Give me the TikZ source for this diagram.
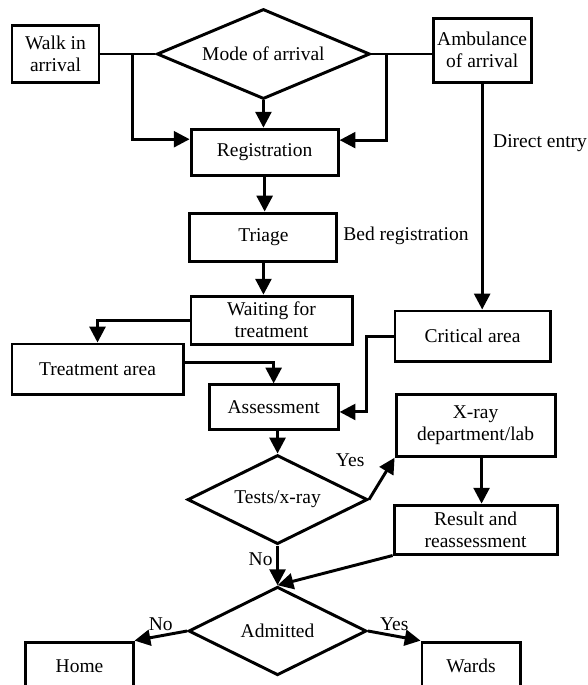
\documentclass[tikz,border=0pt]{standalone}
\usepackage{fontspec}
\setmainfont{Liberation Serif}
\usetikzlibrary{shapes.geometric,arrows.meta}
\tikzset{
  box/.style={draw, line width=2.8pt, align=center, inner sep=0pt},
  decision/.style={draw, diamond, aspect=2, line width=2.8pt, align=center, inner sep=0pt},
  line/.style={line width=2.8pt},
  arr/.style={line width=2.8pt, -{Triangle[length=15pt,width=15pt]}},
}
\begin{document}
\begin{tikzpicture}[font=\fontsize{18.5}{21}\selectfont]
  \useasboundingbox (0,0) rectangle (19.57,-22.83);
  % arrival
  \node[box, minimum width=2.9cm, minimum height=1.87cm] (walk) at (1.85,-1.8) {Walk in\\arrival};
  \node[decision, minimum width=7.1cm, minimum height=3cm] (mode) at (8.78,-1.8) {Mode of arrival};
  \node[box, minimum width=3.27cm, minimum height=2.13cm] (amb) at (16.07,-1.67) {Ambulance\\of arrival};
  \node[box, minimum width=4.9cm, minimum height=1.53cm] (reg) at (8.82,-5.07) {Registration};
  \node[box, minimum width=4.9cm, minimum height=1.6cm] (triage) at (8.78,-7.9) {Triage};
  \node[box, minimum width=5.37cm, minimum height=1.6cm] (wait) at (9.05,-10.67) {Waiting for\\treatment};
  \node[box, minimum width=5.7cm, minimum height=1.67cm] (treat) at (3.25,-12.3) {Treatment area};
  \node[box, minimum width=5.17cm, minimum height=1.67cm] (crit) at (15.75,-11.2) {Critical area};
  \node[box, minimum width=4.3cm, minimum height=1.5cm] (assess) at (9.12,-13.58) {Assessment};
  % tests and results
  \node[decision, minimum width=6cm, minimum height=2.97cm] (tests) at (9.25,-16.65) {Tests/x-ray};
  \node[box, minimum width=5.3cm, minimum height=2.07cm] (xray) at (15.85,-14.17) {X-ray\\department/lab};
  \node[box, minimum width=5.43cm, minimum height=1.63cm] (result) at (15.85,-17.65) {Result and\\reassessment};
  \node[decision, minimum width=5.93cm, minimum height=2.95cm] (admit) at (9.25,-21.03) {Admitted};
  \node[box, minimum width=3.57cm, minimum height=1.6cm] (home) at (2.65,-22.2) {Home};
  \node[box, minimum width=3.27cm, minimum height=1.6cm] (wards) at (15.7,-22.2) {Wards};
  \node (direct) at (18.0,-4.77) {Direct entry};
  \node (bed) at (13.53,-7.87) {Bed registration};
  % connectors
  \coordinate (wj) at (4.43,-1.8);
  \coordinate (aj) at (12.87,-1.8);
  \coordinate (cj) at (12.23,-13.73);
  \draw[line] (walk) -- (mode);
  \draw[arr] (wj) |- ([yshift=0.43cm]reg.west);
  \draw[arr] (mode.south) -- (mode.south |- reg.north);
  \draw[line] (mode.east) -- (mode.east -| amb.west);
  \draw[arr] (aj) |- ([yshift=0.4cm]reg.east);
  \draw[arr] (amb.south) -- (amb.south |- crit.north);
  \draw[arr] (reg.south) -- (reg.south |- triage.north);
  \draw[arr] (triage.south) -- (triage.south |- wait.north);
  \draw[arr] (wait.west) -| (treat.north);
  \draw[arr] ([yshift=0.23cm]treat.east) -| (assess.north);
  \draw[arr] (crit.west) -| (cj) -- (cj -| assess.east);
  \draw[arr] (assess.south -| tests.north) -- (tests.north);
  \draw[arr] (tests.east) -- (xray.south west);
  \node (yes1) at (11.67,-15.33) {Yes};
  \draw[arr] ([xshift=0.2cm]xray.south) -- ([xshift=0.2cm]result.north);
  \draw[arr] (tests.south) -- node[left, pos=0.35] {No} (admit.north);
  \draw[arr] (result.south west) -- (admit.north);
  \draw[arr] (admit.west) -- node[above] {No} (home.north east);
  \draw[arr] (admit.east) -- node[above] {Yes} (wards.north west);
\end{tikzpicture}
\end{document}
